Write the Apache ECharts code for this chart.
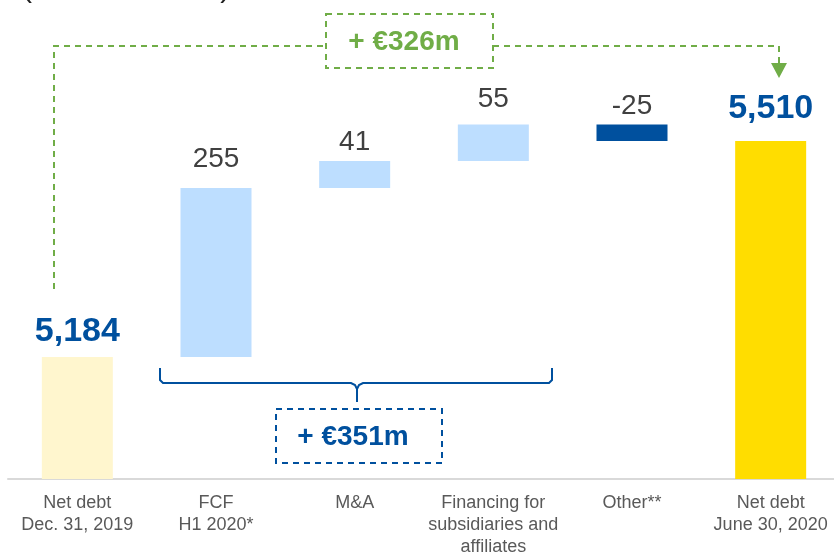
<!DOCTYPE html>
<html>
<head>
<meta charset="utf-8">
<script src="https://cdn.jsdelivr.net/npm/echarts@6/dist/echarts.min.js"></script>
<style>
  html, body { margin: 0; padding: 0; background: #fff; }
  #chart { width: 834px; height: 552px; }
</style>
</head>
<body>
<div id="chart"></div>
<script>
const categories = ['Net debt\nDec. 31, 2019', 'FCF\nH1 2020*', 'M&A', 'Financing for\nsubsidiaries and\naffiliates', 'Other**', 'Net debt\nJune 30, 2020']
const values = [5184, 255, 41, 55, -25, 5510]
const valueLabels = ['5,184', '255', '41', '55', '-25', '5,510']
const totalChange = '+ €326m'
const bridgeChange = '+ €351m'
const unitText = '(in EUR million)'

const barColors = ['#FFF6CE', '#BDDEFF', '#BDDEFF', '#BDDEFF', '#00509E', '#FFDD00']
const labelGaps = [8, 15, 5, 11, 4, 15]
const GREEN = '#70AD47'
const BLUE = '#00509E'

// waterfall: invisible base + visible piece, first/last are totals
const base = []
const visible = []
let running = 0
values.forEach((v, i) => {
  if (i === 0 || i === values.length - 1) {
    base.push(0)
    visible.push(v)
    running = v
  } else {
    base.push(v >= 0 ? running : running + v)
    visible.push(Math.abs(v))
    running += v
  }
})

const chart = echarts.init(document.getElementById('chart'))

chart.setOption({
  animation: false,
  textStyle: { fontFamily: 'Liberation Sans, Arial, sans-serif' },
  grid: { left: 8, right: -6, top: 81.4, bottom: 73, outerBoundsMode: 'none', containLabel: false },
  xAxis: {
    type: 'category',
    data: categories,
    axisTick: { show: false },
    axisLine: { lineStyle: { color: '#D9D9D9', width: 2 } },
    axisLabel: {
      interval: 0,
      color: '#595959',
      fontSize: 18,
      lineHeight: 22,
      margin: 13
    }
  },
  yAxis: {
    type: 'value',
    show: false,
    min: 5000,
    max: 5600
  },
  series: [
    {
      name: 'base',
      type: 'bar',
      stack: 'wf',
      barWidth: 71,
      silent: true,
      itemStyle: { color: 'transparent' },
      data: base
    },
    {
      name: 'value',
      type: 'bar',
      stack: 'wf',
      barWidth: 71,
      data: visible.map((v, i) => {
        const isTotal = i === 0 || i === values.length - 1
        return {
          value: v,
          itemStyle: { color: barColors[i] },
          label: {
            show: true,
            position: 'top',
            distance: labelGaps[i],
            formatter: valueLabels[i],
            color: isTotal ? BLUE : '#404040',
            fontSize: isTotal ? 34 : 28,
            fontWeight: isTotal ? 'bold' : 'normal'
          }
        }
      })
    }
  ],
  graphic: [
    {
      type: 'text',
      x: 22,
      y: 4,
      style: { text: unitText, fill: '#222', verticalAlign: 'bottom', font: '30px Liberation Sans' }
    },
    // total change bracket (green)
    {
      type: 'polyline',
      shape: { points: [[54, 289], [54, 46], [326, 46]] },
      style: { stroke: GREEN, lineWidth: 2, lineDash: [6, 5], fill: null }
    },
    {
      type: 'polyline',
      shape: { points: [[493, 46], [779, 46], [779, 63]] },
      style: { stroke: GREEN, lineWidth: 2, lineDash: [6, 5], fill: null }
    },
    {
      type: 'polygon',
      shape: { points: [[771, 63], [787, 63], [779, 78]] },
      style: { fill: GREEN }
    },
    {
      type: 'rect',
      shape: { x: 326, y: 14, width: 167, height: 54 },
      style: { stroke: GREEN, lineWidth: 2, lineDash: [6, 5], fill: null }
    },
    {
      type: 'text',
      x: 404,
      y: 42,
      style: {
        text: totalChange, fill: GREEN, align: 'center', verticalAlign: 'middle',
        font: 'bold 28px Liberation Sans'
      }
    },
    // brace under the operating items (blue)
    {
      type: 'polyline',
      shape: { points: [[160, 368], [160, 380], [163, 383], [351, 383], [355, 385], [357, 389], [357, 402]] },
      style: { stroke: BLUE, lineWidth: 2, fill: null }
    },
    {
      type: 'polyline',
      shape: { points: [[357, 389], [359, 385], [363, 383], [549, 383], [552, 380], [552, 368]] },
      style: { stroke: BLUE, lineWidth: 2, fill: null }
    },
    {
      type: 'rect',
      shape: { x: 276, y: 409, width: 166, height: 54 },
      style: { stroke: BLUE, lineWidth: 2, lineDash: [6, 5], fill: null }
    },
    {
      type: 'text',
      x: 353,
      y: 437,
      style: {
        text: bridgeChange, fill: BLUE, align: 'center', verticalAlign: 'middle',
        font: 'bold 28px Liberation Sans'
      }
    }
  ]
})
</script>
</body>
</html>
